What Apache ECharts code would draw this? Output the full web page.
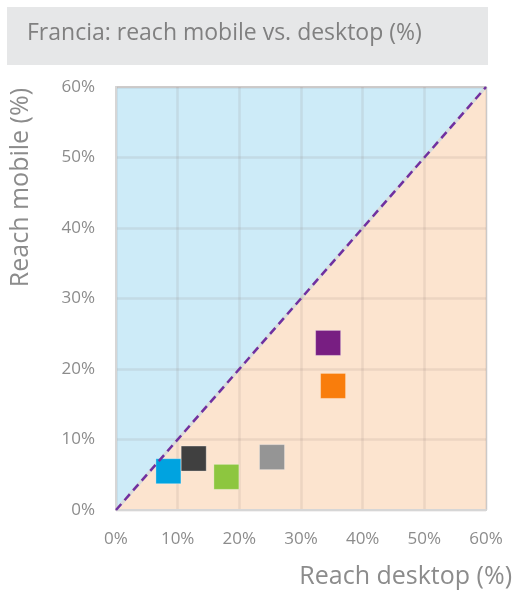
<!DOCTYPE html>
<html>
<head>
<meta charset="utf-8">
<script src="https://cdn.jsdelivr.net/npm/echarts@6/dist/echarts.min.js"></script>
<style>
  html, body { margin: 0; padding: 0; background: #ffffff; }
  #chart { width: 516px; height: 595px; }
</style>
</head>
<body>
<div id="chart"></div>
<script>
// Reach (%) per publisher in France: desktop on x, mobile on y
const desktopReach = [34.4, 35.2, 8.5, 12.6, 17.9, 25.3];
const mobileReach  = [23.7, 17.6, 5.5, 7.3, 4.7, 7.5];
const markerColors = ['#781E82', '#F97D0C', '#00A3E0', '#404040', '#8DC63F', '#959595'];

// Parity line (mobile = desktop) across the axis range
const parityLine = [[0, 0], [60, 60]];

const FONT = '"Open Sans", sans-serif';
const GREY = '#8C8C8C';

const chart = echarts.init(document.getElementById('chart'), null, { renderer: 'canvas' });

const pointSeries = desktopReach.map((x, i) => ({
  type: 'scatter',
  z: 5,
  symbol: 'rect',
  symbolSize: 25,
  itemStyle: { color: markerColors[i], opacity: 1, borderColor: 'rgba(255,255,255,0.6)', borderWidth: 0.5 },
  data: [[x, mobileReach[i]]],
  silent: true
}));

chart.setOption({
  animation: false,
  grid: {
    left: 116, top: 87, width: 370, height: 423,
    show: true,
    backgroundColor: '#CDEBF8',
    borderColor: '#D6D6D6',
    borderWidth: 2
  },
  graphic: [
    {
      type: 'rect', left: 7, top: 7, z: 0,
      shape: { width: 481, height: 58 },
      style: { fill: '#E6E7E8' }
    },
    {
      type: 'text', left: 27, top: 22, z: 1,
      style: { text: 'Francia: reach mobile vs. desktop (%)', fill: '#808080', font: '23px ' + FONT }
    },
    {
      type: 'text', left: 8, top: 88, rotation: Math.PI / 2, z: 1,
      style: { text: 'Reach mobile (%)', fill: GREY, font: '25px ' + FONT }
    },
    {
      type: 'text', right: 4, top: 564, z: 1,
      style: { text: 'Reach desktop (%)', fill: GREY, font: '25px ' + FONT }
    }
  ],
  xAxis: {
    type: 'value', min: 0, max: 60, interval: 10, z: 3,
    axisLine: { show: true, lineStyle: { color: '#D6D6D6', width: 2 } },
    axisTick: { show: false },
    splitLine: { show: true, lineStyle: { color: 'rgba(120,105,95,0.12)', width: 2.5 } },
    axisLabel: { color: GREY, fontSize: 17, fontFamily: FONT, margin: 21, formatter: v => v + '%' }
  },
  yAxis: {
    type: 'value', min: 0, max: 60, interval: 10, z: 3,
    axisLine: { show: true, lineStyle: { color: '#D6D6D6', width: 2 } },
    axisTick: { show: false },
    splitLine: { show: true, lineStyle: { color: 'rgba(120,105,95,0.12)', width: 2.5 } },
    axisLabel: { color: GREY, fontSize: 17, fontFamily: FONT, margin: 21, formatter: v => v + '%' }
  },
  series: [
    {
      // lower-right region: mobile reach below desktop reach
      type: 'line', z: 1, data: parityLine, symbol: 'none', silent: true,
      lineStyle: { color: '#D8DCDC', width: 3 },
      areaStyle: { color: '#FCE4CF', opacity: 1, origin: 'start' }
    },
    ...pointSeries,
    {
      type: 'line', z: 6, data: parityLine, symbol: 'none', silent: true,
      lineStyle: { color: '#7030A0', width: 2.5, type: [8, 5] }
    }
  ]
});
</script>
</body>
</html>
